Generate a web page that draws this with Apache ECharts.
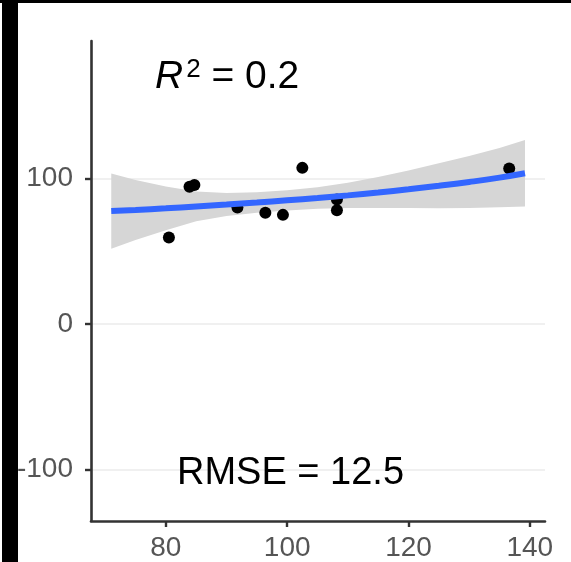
<!DOCTYPE html>
<html>
<head>
<meta charset="utf-8">
<script src="https://cdn.jsdelivr.net/npm/echarts@6/dist/echarts.min.js"></script>
<style>
  html, body { margin: 0; padding: 0; background: #fff; }
  #chart { width: 571px; height: 562px; }
</style>
</head>
<body>
<div id="chart"></div>
<script>
// ---- data ----
const pointX = [80.5, 83.9, 84.7, 91.8, 96.4, 99.3, 102.5, 108.2, 108.2, 136.6];
const pointY = [59.4, 94.4, 95.6, 80.0, 76.4, 75.0, 107.3, 85.6, 78.1, 106.8];

const fitX     = [71, 75, 80, 85, 90, 95, 100, 105, 110, 115, 120, 125, 130, 135, 139.2];
const fitY     = [77.6, 78.4, 79.5, 80.8, 82.1, 83.5, 85.0, 86.6, 88.4, 90.4, 92.6, 95.0, 97.6, 100.6, 103.6];
const bandUpper= [103.4, 99.0, 94.5, 91.0, 90.0, 90.5, 92.0, 94.0, 97.0, 101.0, 105.5, 110.5, 115.5, 121.0, 126.5];
const bandLower= [51.8, 57.8, 64.5, 70.6, 74.2, 76.5, 78.0, 79.2, 79.8, 79.8, 79.7, 79.5, 79.7, 80.2, 80.7];

const xTicks = [80, 100, 120, 140];
const yTicks = [-100, 0, 100];

const r2Label = '0.2';
const rmseLabel = 'RMSE = 12.5';

// ---- chart ----
const chart = echarts.init(document.getElementById('chart'), null, { renderer: 'canvas' });
const font = '"Liberation Sans", Arial, Helvetica, sans-serif';

const scatterData = pointX.map((x, i) => [x, pointY[i]]);
const fitData = fitX.map((x, i) => [x, fitY[i]]);
const bandData = fitX.map((x, i) => [x, bandLower[i], bandUpper[i]]);

const option = {
  backgroundColor: '#ffffff',
  animation: false,
  grid: { left: 91, right: 26, top: 41, bottom: 39.5, containLabel: false },
  xAxis: {
    type: 'value',
    min: 67.66, max: 142.5,
    axisLine: { show: true, onZero: false, lineStyle: { color: '#333333', width: 2.6 } },
    axisTick: { show: true, length: 6, customValues: xTicks, lineStyle: { color: '#333333', width: 2.4 } },
    axisLabel: { customValues: xTicks, color: '#555555', fontSize: 28, fontFamily: font, margin: 13 },
    splitLine: { show: false }
  },
  yAxis: {
    type: 'value',
    min: -135.4, max: 194.5,
    axisLine: { show: true, onZero: false, lineStyle: { color: '#333333', width: 2.6 } },
    axisTick: { show: true, length: 6, customValues: yTicks, lineStyle: { color: '#333333', width: 2.4 } },
    axisLabel: { customValues: yTicks, color: '#555555', fontSize: 28, fontFamily: font, margin: 18 },
    splitLine: { show: true, lineStyle: { color: '#ebebeb', width: 1.6 } }
  },
  series: [
    {
      type: 'custom',
      data: bandData,
      z: 2,
      silent: true,
      renderItem: function (params, api) {
        if (params.dataIndex !== 0) return null;
        const pts = [];
        for (let i = 0; i < fitX.length; i++) pts.push(api.coord([fitX[i], bandUpper[i]]));
        for (let i = fitX.length - 1; i >= 0; i--) pts.push(api.coord([fitX[i], bandLower[i]]));
        return { type: 'polygon', shape: { points: pts }, style: { fill: '#d6d6d6' } };
      }
    },
    {
      type: 'scatter',
      data: scatterData,
      symbol: 'circle',
      symbolSize: 12,
      itemStyle: { color: '#000000', opacity: 1 },
      z: 3
    },
    {
      type: 'line',
      data: fitData,
      smooth: true,
      showSymbol: false,
      symbol: 'none',
      lineStyle: { color: '#3366FF', width: 6 },
      z: 4
    }
  ],
  graphic: [
    {
      type: 'text', left: 155, top: 57, z: 10,
      style: {
        text: '{r|R}{s|2}{n| = ' + r2Label + '}',
        rich: {
          r: { fontSize: 39, fontStyle: 'italic', fontFamily: font, fill: '#000' },
          s: { fontSize: 26, fontFamily: font, fill: '#000', verticalAlign: 'top', padding: [0, 0, 14, 3] },
          n: { fontSize: 39, fontFamily: font, fill: '#000' }
        }
      }
    },
    {
      type: 'text', left: 177, top: 455, z: 10,
      style: { text: rmseLabel, fontSize: 38, fontFamily: font, fill: '#000' }
    },
    { type: 'rect', left: 0, top: 0, shape: { width: 571, height: 3 }, style: { fill: '#000' }, z: 20 },
    { type: 'rect', left: 2, top: 0, shape: { width: 16, height: 562 }, style: { fill: '#000' }, z: 20 }
  ]
};
chart.setOption(option);
</script>
</body>
</html>
